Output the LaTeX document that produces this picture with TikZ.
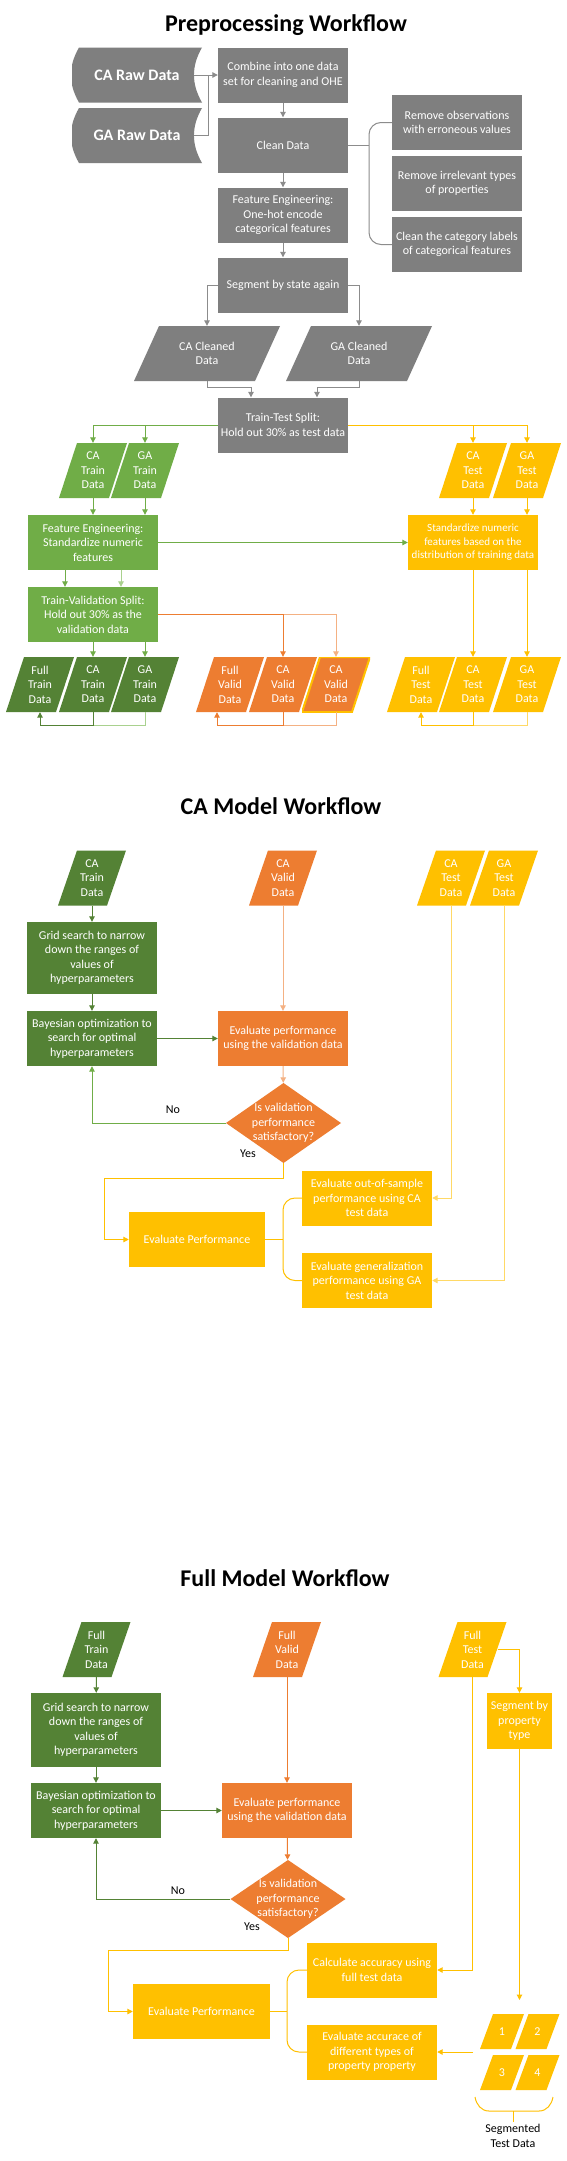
\documentclass[tikz,border=0pt]{standalone}
\usepackage{fontspec}
\setmainfont{Carlito}
\usetikzlibrary{arrows.meta}
\definecolor{cgray}{HTML}{7F7F7F}
\definecolor{cgrayl}{HTML}{8C8C8C}
\definecolor{cgreen}{HTML}{70AD47}
\definecolor{cdkgreen}{HTML}{548235}
\definecolor{clgreen}{HTML}{A9D18E}
\definecolor{corange}{HTML}{ED7D31}
\definecolor{cpeach}{HTML}{F4B183}
\definecolor{cyellow}{HTML}{FFC000}
\definecolor{clyellow}{HTML}{FFD966}
\tikzset{
  base/.style={inner sep=0pt, align=center, text=white, font=\fontsize{12}{14.5}\selectfont},
  box/.style={base, rectangle, minimum width=130pt, minimum height=55pt, fill=#1},
  para/.style 2 args={base, rectangle, minimum width=68pt, minimum height=55pt,
    path picture={\fill[#1] ([xshift=#2]path picture bounding box.north west) -- (path picture bounding box.north east) -- ([xshift=-#2]path picture bounding box.south east) -- (path picture bounding box.south west) -- cycle;}},
  parab/.style 2 args={base, rectangle, minimum width=68pt, minimum height=55pt,
    path picture={\filldraw[fill=#1, draw=cyellow, line width=2pt] ([xshift=#2]path picture bounding box.north west) -- (path picture bounding box.north east) -- ([xshift=-#2]path picture bounding box.south east) -- (path picture bounding box.south west) -- cycle;}},
  stored/.style={base, rectangle, minimum width=130pt, minimum height=55pt, font=\fontsize{16}{19}\selectfont\bfseries,
    path picture={\fill[#1] ([xshift=7pt]path picture bounding box.north west) -- (path picture bounding box.north east) to[out=-120,in=120] (path picture bounding box.south east) -- ([xshift=7pt]path picture bounding box.south west) to[out=120,in=-120] ([xshift=7pt]path picture bounding box.north west) -- cycle;}},
  dia/.style={base, rectangle, minimum width=115pt, minimum height=80pt,
    path picture={\fill[#1] (path picture bounding box.north) -- (path picture bounding box.east) -- (path picture bounding box.south) -- (path picture bounding box.west) -- cycle;}},
  title/.style={inner sep=0pt, text=black, font=\fontsize{24}{28}\selectfont\bfseries},
  lbl/.style={inner sep=0pt, align=center, text=black, font=\fontsize{12}{14.5}\selectfont},
  ar/.style={draw=#1, line width=1pt, -{Triangle[length=5.5pt,width=5.5pt]}},
  ln/.style={draw=#1, line width=1pt},
}
\begin{document}
\begin{tikzpicture}[x=1pt,y=-1pt]
\fill[white] (0,0) rectangle (566,2161);
\useasboundingbox (0,0) rectangle (566,2161);

% ================= Preprocessing =================
\node[title] (t1) at (286,25) {Preprocessing Workflow};
\node[stored=cgray] (caraw) at (137,75) {CA Raw Data};
\node[stored=cgray] (garaw) at (137,135.5) {GA Raw Data};
\node[box=cgray] (combine) at (283,75) {Combine into one data\\set for cleaning and OHE};
\node[box=cgray] (clean) at (283,145) {Clean Data};
\node[box=cgray] (fe1) at (283,215) {Feature Engineering:\\One-hot encode\\categorical features};
\node[box=cgray] (seg) at (283,285) {Segment by state again};
\node[box=cgray] (rm1) at (457,122.5) {Remove observations\\with erroneous values};
\node[box=cgray] (rm2) at (457,183.5) {Remove irrelevant types\\of properties};
\node[box=cgray] (rm3) at (457,244.5) {Clean the category labels\\of categorical features};
\node[para={cgray}{25pt}, minimum width=146pt] (cacl) at (207,353.5) {CA Cleaned\\Data};
\node[para={cgray}{25pt}, minimum width=146pt] (gacl) at (359,353.5) {GA Cleaned\\Data};
\node[box=cgray] (tts) at (283,425) {Train-Test Split:\\Hold out 30\% as test data};
\node[para={cgreen}{18pt}] (catr) at (93,470.5) {CA\\Train\\Data};
\node[para={cgreen}{18pt}] (gatr) at (145,470.5) {GA\\Train\\Data};
\node[para={cyellow}{18pt}] (cate) at (473,470.5) {CA\\Test\\Data};
\node[para={cyellow}{18pt}] (gate) at (527,470.5) {GA\\Test\\Data};
\node[box=cgreen] (fe2) at (93,542.5) {Feature Engineering:\\Standardize numeric\\features};
\node[box=cyellow, font=\fontsize{11}{13.5}\selectfont] (std) at (473,542.5) {Standardize numeric\\features based on the\\distribution of training data};
\node[box=cgreen] (tvs) at (93,614.5) {Train-Validation Split:\\Hold out 30\% as the\\validation data};
\node[para={cdkgreen}{18pt}] (fulltr) at (40,684.5) {Full\\Train\\Data};
\node[para={cdkgreen}{18pt}] (catr2) at (93,684.5) {CA\\Train\\Data};
\node[para={cdkgreen}{18pt}] (gatr2) at (145,684.5) {GA\\Train\\Data};
\node[para={corange}{18pt}] (fullva) at (230,684.5) {Full\\Valid\\Data};
\node[para={corange}{18pt}] (cava) at (283,684.5) {CA\\Valid\\Data};
\node[parab={corange}{18pt}] (cava2) at (336,684.5) {CA\\Valid\\Data};
\node[para={cyellow}{18pt}] (fullte) at (421,684.5) {Full\\Test\\Data};
\node[para={cyellow}{18pt}] (cate2) at (473,684.5) {CA\\Test\\Data};
\node[para={cyellow}{18pt}] (gate2) at (527,684.5) {GA\\Test\\Data};

\coordinate (j1) at (208,75);
\draw[ln=cgrayl] ([xshift=-8pt]garaw.east) -| (j1);
\draw[ar=cgrayl] ([xshift=-8pt]caraw.east) -- (combine.west);
\draw[ar=cgrayl] (combine) -- (clean);
\draw[ar=cgrayl] (clean) -- (fe1);
\draw[ar=cgrayl] (fe1) -- (seg);
\coordinate (b1) at (369,145);
\draw[ln=cgrayl] (clean.east) -- (b1);
\draw[ln=cgrayl, rounded corners=12pt] (rm1.west) -| (b1) |- (rm3.west);
\draw[ar=cgrayl] (seg.west) -| (cacl.north);
\draw[ar=cgrayl] (seg.east) -| (gacl.north);
\draw[ar=cgrayl] (cacl.south) -- ++(0,6) -| ([xshift=-32pt]tts.north);
\draw[ar=cgrayl] (gacl.south) -- ++(0,6) -| ([xshift=34pt]tts.north);
\draw[ar=cgreen] (tts.west) -| (gatr.north);
\draw[ar=cgreen] (tts.west) -| (catr.north);
\draw[ar=cyellow] (tts.east) -| (gate.north);
\draw[ar=cyellow] (tts.east) -| (cate.north);
\draw[ar=cgreen] (catr.south) -- (catr.south |- fe2.north);
\draw[ar=cgreen] (gatr.south) -- (gatr.south |- fe2.north);
\draw[ar=cgreen] (fe2.east) -- (std.west);
\draw[ar=cyellow] (cate.south) -- (cate.south |- std.north);
\draw[ar=cyellow] (gate.south) -- (gate.south |- std.north);
\draw[ar=cgreen] ([xshift=-28pt]fe2.south) -- ([xshift=-28pt]tvs.north);
\draw[ar=clgreen] ([xshift=28pt]fe2.south) -- ([xshift=28pt]tvs.north);
\draw[ar=cpeach] (tvs.east) -| (cava2.north);
\draw[ar=corange] (tvs.east) -| (cava.north);
\draw[ar=cgreen] (catr2.north |- tvs.south) -- (catr2.north);
\draw[ar=cgreen] (gatr2.north |- tvs.south) -- (gatr2.north);
\draw[ar=cyellow] (cate2.north |- std.south) -- (cate2.north);
\draw[ar=cyellow] (gate2.north |- std.south) -- (gate2.north);
\draw[ln=clgreen] (gatr2.south) -- ([yshift=-13pt]gatr2.south) -- ([yshift=-13pt]catr2.south);
\draw[ar=cdkgreen] (catr2.south) -- ([yshift=-13pt]catr2.south) -| (fulltr.south);
\draw[ln=cpeach] (cava2.south) -- ([yshift=-13pt]cava2.south) -- ([yshift=-13pt]cava.south);
\draw[ar=corange] (cava.south) -- ([yshift=-13pt]cava.south) -| ([xshift=-13pt]fullva.south);
\draw[ln=clyellow] (gate2.south) -- ([yshift=-13pt]gate2.south) -- ([yshift=-13pt]cate2.south);
\draw[ar=cyellow] (cate2.south) -- ([yshift=-13pt]cate2.south) -| (fullte.south);

% ================= CA Model =================
\node[title] (t2) at (281,806) {CA Model Workflow};
\node[para={cdkgreen}{19pt}] (ca_tr) at (92,878) {CA\\Train\\Data};
\node[para={corange}{19pt}] (ca_va) at (283,878) {CA\\Valid\\Data};
\node[para={cyellow}{19pt}] (ca_te) at (451,878) {CA\\Test\\Data};
\node[para={cyellow}{19pt}] (ga_te) at (504,878) {GA\\Test\\Data};
\node[box=cdkgreen, minimum height=72pt] (grid1) at (92,958) {Grid search to narrow\\down the ranges of\\values of\\hyperparameters};
\node[box=cdkgreen] (bayes1) at (92,1038.5) {Bayesian optimization to\\search for optimal\\hyperparameters};
\node[box=corange] (eval1) at (283,1038.5) {Evaluate performance\\using the validation data};
\node[dia=corange] (dia1) at (283.5,1123) {Is validation\\performance\\satisfactory?};
\node[box=cyellow, minimum width=136pt] (ep1) at (197,1239.5) {Evaluate Performance};
\node[box=cyellow] (oos1) at (367,1198) {Evaluate out-of-sample\\performance using CA\\test data};
\node[box=cyellow] (gen1) at (367,1280.5) {Evaluate generalization\\performance using GA\\test data};
\node[lbl] (no1) at (173,1110) {No};
\node[lbl] (yes1) at (248,1154) {Yes};

\draw[ar=cdkgreen] (ca_tr) -- (grid1);
\draw[ar=cdkgreen] (grid1) -- (bayes1);
\draw[ar=cdkgreen] (bayes1) -- (eval1);
\draw[ar=cpeach] (ca_va) -- (eval1);
\draw[ar=cpeach] (eval1) -- (dia1);
\draw[ar=cgreen] (dia1.west) -| (bayes1.south);
\coordinate (y1) at (104,1178);
\draw[ar=cyellow] (dia1.south) |- (y1) |- (ep1.west);
\coordinate (b2) at (283,1239.5);
\draw[ln=cyellow] (ep1.east) -- (b2);
\draw[ln=cyellow, rounded corners=12pt] (oos1.west) -| (b2) |- (gen1.west);
\draw[ar=clyellow] (ca_te.south) |- (oos1.east);
\draw[ar=clyellow] (ga_te.south) |- (gen1.east);

% ================= Full Model =================
\node[title] (t3) at (285,1578) {Full Model Workflow};
\node[para={cdkgreen}{19pt}] (fu_tr) at (96.5,1649.5) {Full\\Train\\Data};
\node[para={corange}{19pt}] (fu_va) at (287,1649.5) {Full\\Valid\\Data};
\node[para={cyellow}{19pt}] (fu_te) at (472.5,1649.5) {Full\\Test\\Data};
\node[box=cdkgreen, minimum height=74pt] (grid2) at (96,1730) {Grid search to narrow\\down the ranges of\\values of\\hyperparameters};
\node[box=cdkgreen] (bayes2) at (96,1810.5) {Bayesian optimization to\\search for optimal\\hyperparameters};
\node[box=corange] (eval2) at (287,1810.5) {Evaluate performance\\using the validation data};
\node[box=cyellow, minimum width=65pt, minimum height=56pt] (segp) at (519.5,1721) {Segment by\\property\\type};
\node[dia=corange, minimum height=78pt] (dia2) at (288,1899) {Is validation\\performance\\satisfactory?};
\node[box=cyellow, minimum width=137pt] (ep2) at (201.5,2011.5) {Evaluate Performance};
\node[box=cyellow] (calc2) at (372,1970) {Calculate accuracy using\\full test data};
\node[box=cyellow] (evacc2) at (372,2052) {Evaluate accurace of\\different types of\\property property};
\node[para={cyellow}{13pt}, minimum width=44pt, minimum height=35pt] (s1) at (502,2031.5) {1};
\node[para={cyellow}{13pt}, minimum width=44pt, minimum height=35pt] (s2) at (537.5,2031.5) {2};
\node[para={cyellow}{13pt}, minimum width=44pt, minimum height=35pt] (s3) at (502,2072.5) {3};
\node[para={cyellow}{13pt}, minimum width=44pt, minimum height=35pt] (s4) at (537.5,2072.5) {4};
\node[lbl] (segtxt) at (513,2136) {Segmented\\Test Data};
\node[lbl] (no2) at (178,1891) {No};
\node[lbl] (yes2) at (252,1927) {Yes};

\draw[ar=cdkgreen] (fu_tr) -- (grid2);
\draw[ar=cdkgreen] (grid2) -- (bayes2);
\draw[ar=cdkgreen] (bayes2) -- (eval2);
\draw[ar=corange] (fu_va) -- (eval2);
\draw[ar=corange] (eval2) -- (dia2);
\draw[ar=cdkgreen] (dia2.west) -| (bayes2.south);
\coordinate (y2) at (108,1950);
\draw[ar=cyellow] (dia2.south) |- (y2) |- (ep2.west);
\coordinate (b3) at (287,2011.5);
\draw[ln=cyellow] (ep2.east) -- (b3);
\draw[ln=cyellow, rounded corners=12pt] (calc2.west) -| (b3) |- (evacc2.west);
\draw[ar=cyellow] (fu_te.south) |- (calc2.east);
\draw[ar=cyellow] ([xshift=-9pt]fu_te.east) -| (segp.north);
\coordinate (sa) at (519.5,2000);
\draw[ar=cyellow] (segp.south) -- (sa);
\coordinate (sb) at (473,2052);
\draw[ar=cyellow] (sb) -- (evacc2.east);
\coordinate (bb1) at (475,2097);
\coordinate (bb2) at (553,2097);
\coordinate (bb3) at (513,2111);
\coordinate (bb4) at (513,2122);
\draw[ln=cyellow] (bb1) to[out=-80,in=180] (489,2111) -- (539,2111) to[out=0,in=-100] (bb2);
\draw[ln=cyellow] (bb3) -- (bb4);
\end{tikzpicture}
\end{document}
